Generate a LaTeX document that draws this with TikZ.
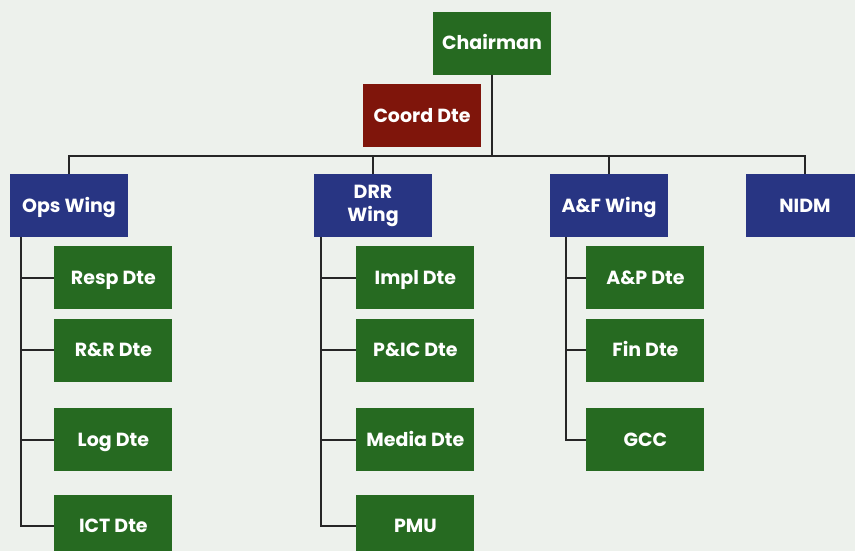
\documentclass[tikz,border=0pt]{standalone}
\usepackage{fontspec}
\setmainfont{Poppins}
\usetikzlibrary{positioning}
\definecolor{bggray}{HTML}{EDF1EC}
\definecolor{dtegreen}{HTML}{266A21}
\definecolor{wingblue}{HTML}{283583}
\definecolor{coordred}{HTML}{7F150B}
\definecolor{linkgray}{HTML}{262626}
\tikzset{
    box/.style={
        rectangle,
        minimum width=118pt,
        minimum height=63pt,
        inner sep=0pt,
        text=white,
        align=center,
        text height=16pt,
        text depth=3pt,
        font=\fontsize{19}{23}\selectfont\bfseries
    },
    dte/.style={
        box,
        fill=dtegreen
    },
    wing/.style={
        box,
        fill=wingblue
    },
    coord/.style={
        box,
        fill=coordred
    },
    link/.style={
        draw=linkgray,
        line width=2pt
    }
}
\begin{document}
\begin{tikzpicture}[x=1pt, y=-1pt]
        % Background
        \fill[bggray] (0,0) rectangle (855,551);
        \useasboundingbox (0,0) rectangle (855,551);

        % Top
        \node [dte] (chairman) at (492,43.5) {Chairman};
        \node [coord] (coorddte) at (422,115.5) {Coord Dte};
        \coordinate (bus) at (492,156);

        % Wings
        \node [wing] (ops) at (69,205.5) {Ops Wing};
        \node [wing, text height={}, text depth={}] (drr) at (373,205.5) {DRR\\Wing};
        \node [wing] (af) at (609,205.5) {A\&F Wing};
        \node [wing] (nidm) at (805,205.5) {NIDM};

        % Ops Wing directorates
        \node [dte, below right=9pt and -74pt of ops] (resp) {Resp Dte};
        \node [dte, below=9pt of resp] (rr) {R\&R Dte};
        \node [dte, below=26pt of rr] (log) {Log Dte};
        \node [dte, below=23pt of log] (ict) {ICT Dte};

        % DRR Wing directorates
        \node [dte, below right=9pt and -76pt of drr] (impl) {Impl Dte};
        \node [dte, below=9pt of impl] (pic) {P\&IC Dte};
        \node [dte, below=26pt of pic] (media) {Media Dte};
        \node [dte, below=23pt of media] (pmu) {PMU};

        % A&F Wing directorates
        \node [dte, below right=9pt and -82pt of af] (ap) {A\&P Dte};
        \node [dte, below=9pt of ap] (fin) {Fin Dte};
        \node [dte, below=26pt of fin] (gcc) {GCC};

        % Chairman to wings
        \draw [link] (chairman.south) -- (bus);
        \foreach \w in {ops,drr,af,nidm}
            \draw [link] (bus) -| (\w.north);

        % Wings to directorates
        \foreach \d in {resp,rr,log,ict}
            \draw [link] ([xshift=11pt]ops.south west) |- (\d.west);
        \foreach \d in {impl,pic,media,pmu}
            \draw [link] ([xshift=7pt]drr.south west) |- (\d.west);
        \foreach \d in {ap,fin,gcc}
            \draw [link] ([xshift=16pt]af.south west) |- (\d.west);
    \end{tikzpicture}
\end{document}
